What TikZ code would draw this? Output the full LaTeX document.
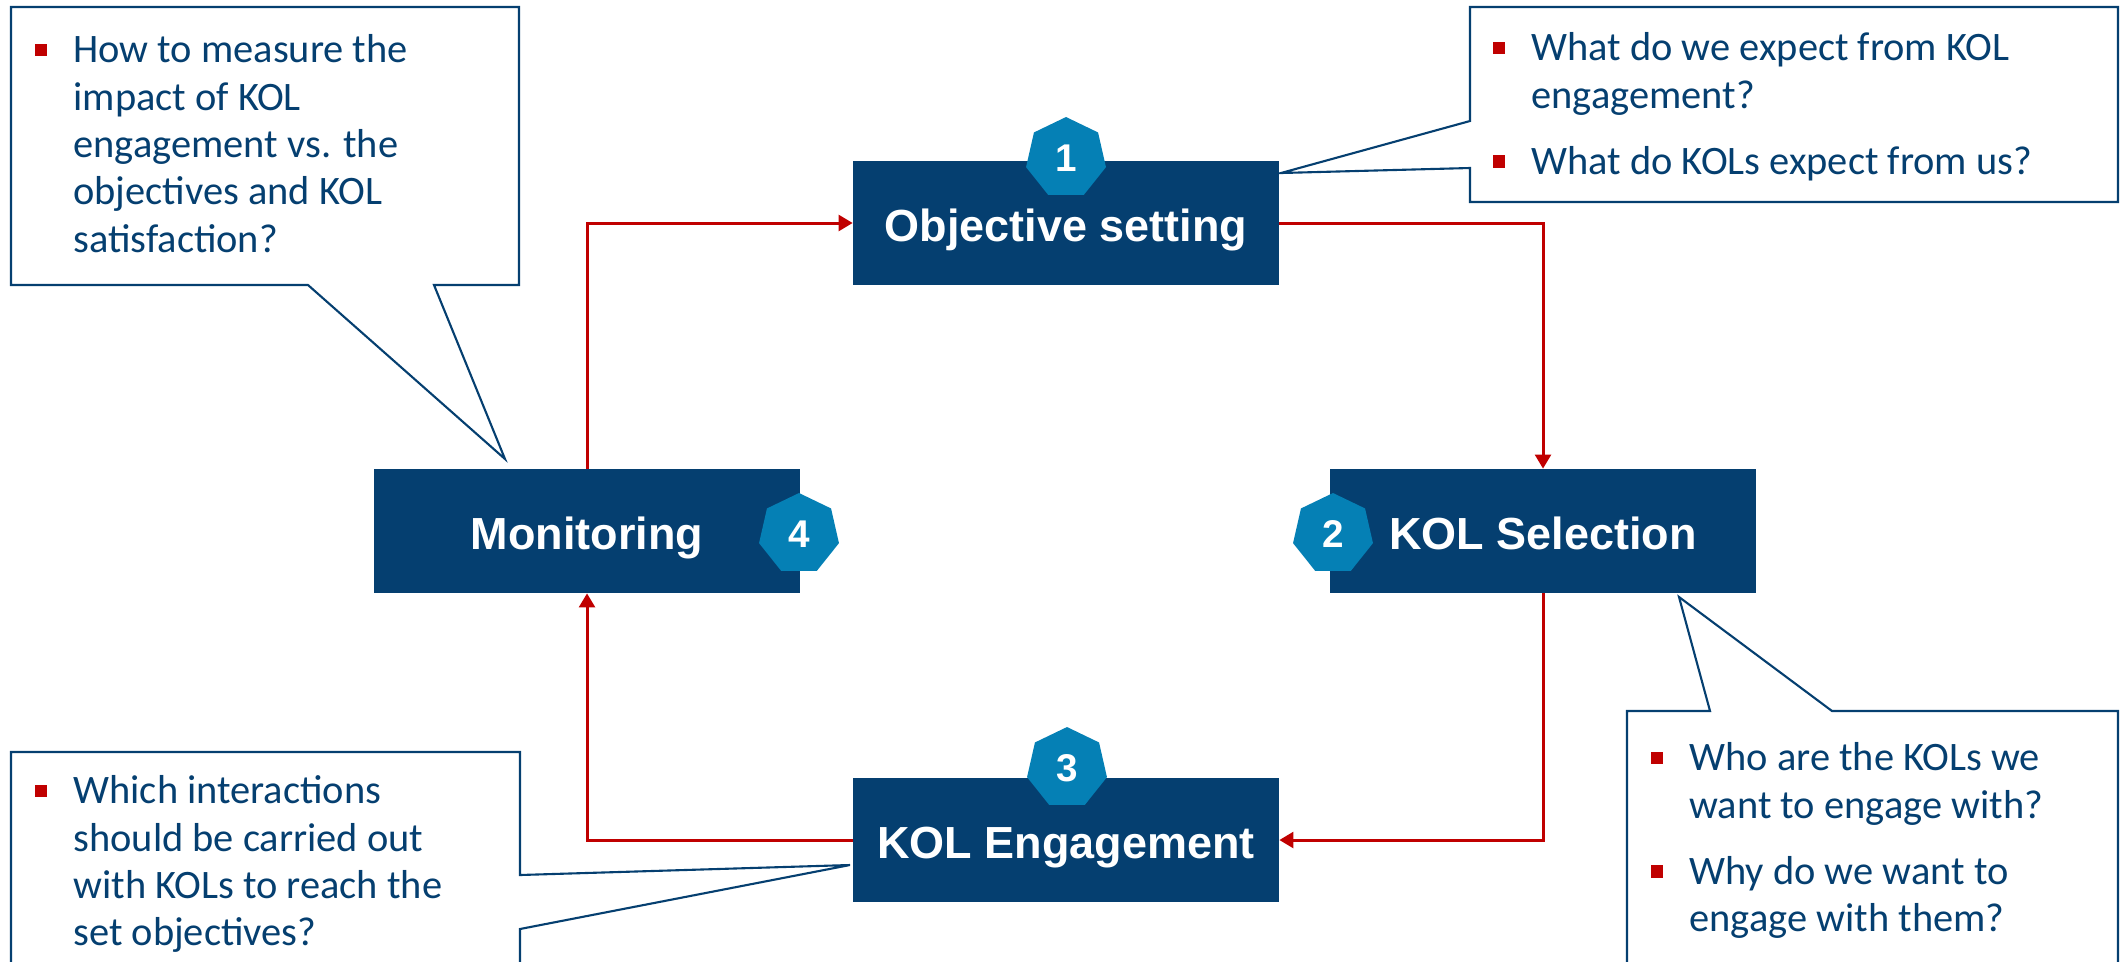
\documentclass[tikz,border=0pt]{standalone}
\usepackage{fontspec}
\setmainfont{Carlito}
\newfontfamily\arialfont{Liberation Sans}
\usepackage{xcolor}
\usepackage{tikz}
\usetikzlibrary{arrows.meta,positioning,shapes.geometric}
\definecolor{kolnavy}{RGB}{5,63,112}
\definecolor{kolblue}{RGB}{5,128,181}
\definecolor{kolred}{RGB}{192,0,0}
\newcommand{\kolbullet}{\textcolor{kolred}{\rule[0.17em]{0.3em}{0.3em}}}

\begin{document}
\begin{tikzpicture}[
    x=0.02cm, y=-0.02cm,
    stage/.style={fill=kolnavy, text=white, minimum width=8.52cm, minimum height=2.48cm, inner sep=0pt, text height=20.5pt, text depth=0pt, font=\arialfont\bfseries\fontsize{25.6}{30}\selectfont},
    badge/.style={regular polygon, regular polygon sides=7, fill=kolblue, text=white, minimum size=1.64cm, inner sep=0pt, font=\arialfont\bfseries\fontsize{22}{26}\selectfont},
    flow/.style={draw=kolred, line width=1.7pt, -{Triangle[length=8pt, width=9pt]}},
    callout/.style={draw=kolnavy, line width=1.2pt, fill=white, line join=miter},
    question/.style={anchor=north west, inner sep=0pt, text=kolnavy, font=\fontsize{23}{27}\selectfont}
]
\useasboundingbox (0,0) rectangle (2125,961);

% speech bubbles
\draw[callout] (11,7) -- (519,7) -- (519,285) -- (434,285) -- (505,459) -- (308,285) -- (11,285) -- cycle;
\draw[callout] (1470,7) -- (2118,7) -- (2118,202) -- (1470,202) -- (1470,168) -- (1281,173) -- (1470,121) -- cycle;
\draw[callout] (11,752) -- (520,752) -- (520,875) -- (850,865) -- (520,929) -- (520,990) -- (11,990) -- cycle;
\draw[callout] (1627,711) -- (1710,711) -- (1679,597) -- (1832,711) -- (2118,711) -- (2118,990) -- (1627,990) -- cycle;

\node[question] (qmon) at (35,29) {\begin{tabular}{@{}l@{\hskip 14.8pt}l@{}}
\kolbullet & How to measure the\\
 & impact of KOL\\
 & engagement vs. the\\
 & objectives and KOL\\
 & satisfaction?
\end{tabular}};
\node[question] (qobj) at (1493,27) {\begin{tabular}{@{}l@{\hskip 14.8pt}l@{}}
\kolbullet & What do we expect from KOL\\
 & engagement?\\[10.8pt]
\kolbullet & What do KOLs expect from us?
\end{tabular}};
\node[question] (qsel) at (1651,737) {\begin{tabular}{@{}l@{\hskip 14.8pt}l@{}}
\kolbullet & Who are the KOLs we\\
 & want to engage with?\\[10.8pt]
\kolbullet & Why do we want to\\
 & engage with them?
\end{tabular}};
\node[question] (qeng) at (35,770) {\begin{tabular}{@{}l@{\hskip 14.8pt}l@{}}
\kolbullet & Which interactions\\
 & should be carried out\\
 & with KOLs to reach the\\
 & set objectives?
\end{tabular}};

% cycle
\node[stage] (obj) at (1066,223) {Objective setting};
\node[stage] (sel) at (1543,531) {KOL Selection};
\node[stage] (eng) at (1066,840) {KOL Engagement};
\node[stage] (mon) at (587,531) {Monitoring};

\draw[flow] (mon.north) |- (obj.west);
\draw[flow] (obj.east) -| (sel.north);
\draw[flow] (sel.south) |- (eng.east);
\draw[flow] (eng.west) -| (mon.south);

\node[badge] (n1) at (1066,158) {1};
\node[badge] (n2) at (1333,534) {2};
\node[badge] (n3) at (1067,768) {3};
\node[badge] (n4) at (799,534) {4};
\end{tikzpicture}
\end{document}
